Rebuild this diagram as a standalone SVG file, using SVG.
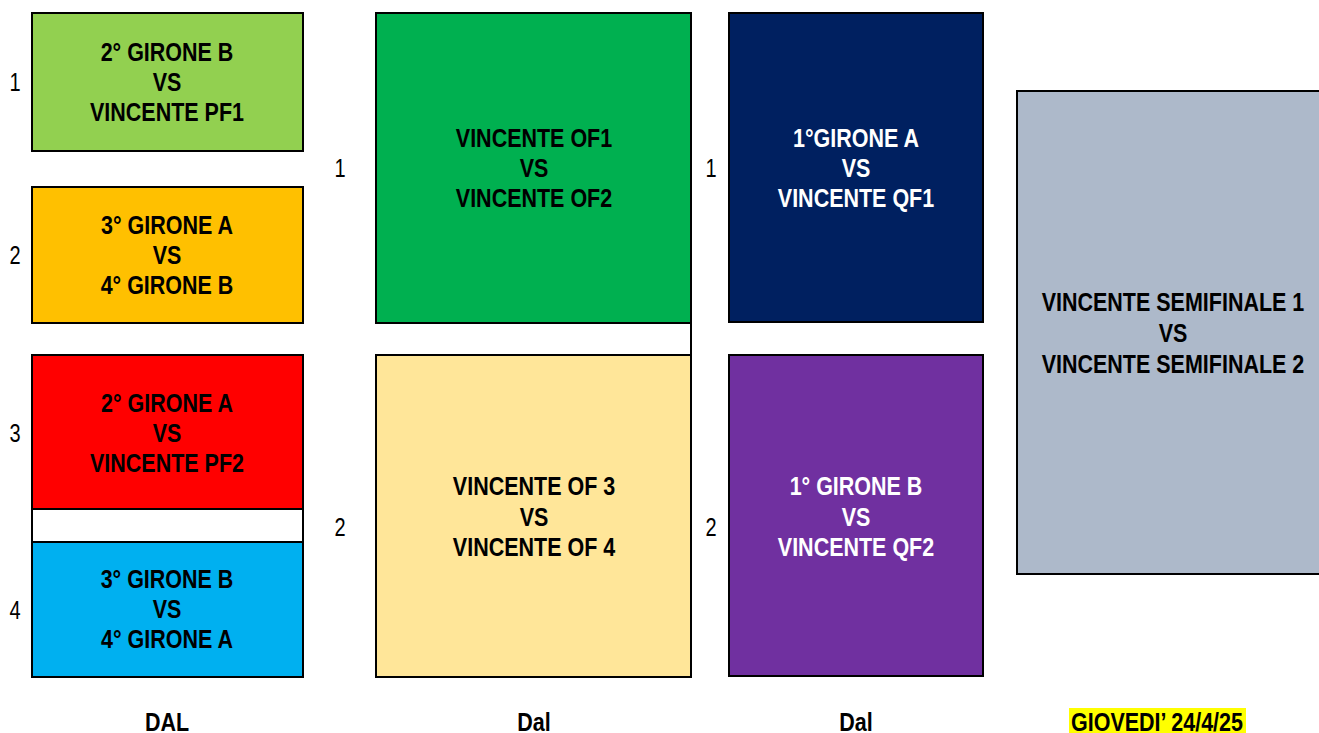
<svg xmlns="http://www.w3.org/2000/svg" width="1319" height="733" viewBox="0 0 1319 733">
<style>
.b{stroke:#000;stroke-width:2}
.t{font-family:"Liberation Sans",Arial,sans-serif;font-weight:bold;font-size:25px;text-anchor:middle}
.n{font-family:"Liberation Sans",Arial,sans-serif;font-size:25px;text-anchor:middle;fill:#000}
.w{fill:#fff}.k{fill:#000}
</style>
<rect width="1319" height="733" fill="#fff"/>
<g id="connectors">
<line x1="691" y1="322" x2="691" y2="356" class="b"/>
</g>
<g id="n1"><rect x="32" y="13" width="271" height="138" fill="#92D050" class="b"/>
<g transform="translate(167,0) scale(0.86,1)" class="t k"><text y="61">2° GIRONE B</text><text y="91">VS</text><text y="121">VINCENTE PF1</text></g></g>
<g id="n2"><rect x="32" y="187" width="271" height="136" fill="#FFC000" class="b"/>
<g transform="translate(167,0) scale(0.86,1)" class="t k"><text y="234">3° GIRONE A</text><text y="264">VS</text><text y="294">4° GIRONE B</text></g></g>
<g id="n3"><rect x="32" y="355" width="271" height="154" fill="#FF0000" class="b"/>
<g transform="translate(167,0) scale(0.86,1)" class="t k"><text y="412">2° GIRONE A</text><text y="442">VS</text><text y="472">VINCENTE PF2</text></g></g>
<g id="gap"><rect x="32" y="509" width="271" height="33" fill="#fff" class="b"/></g>
<g id="n4"><rect x="32" y="542" width="271" height="135" fill="#00B0F0" class="b"/>
<g transform="translate(167,0) scale(0.86,1)" class="t k"><text y="588">3° GIRONE B</text><text y="618">VS</text><text y="648">4° GIRONE A</text></g></g>
<g id="n5"><rect x="376" y="13" width="315" height="310" fill="#00B050" class="b"/>
<g transform="translate(534,0) scale(0.86,1)" class="t k"><text y="147">VINCENTE OF1</text><text y="177">VS</text><text y="207">VINCENTE OF2</text></g></g>
<g id="n6"><rect x="376" y="355" width="315" height="322" fill="#FFE699" class="b"/>
<g transform="translate(534,0) scale(0.86,1)" class="t k"><text y="495">VINCENTE OF 3</text><text y="526">VS</text><text y="556">VINCENTE OF 4</text></g></g>
<g id="n7"><rect x="729" y="13" width="254" height="309" fill="#002060" class="b"/>
<g transform="translate(856,0) scale(0.86,1)" class="t w"><text y="147">1°GIRONE A</text><text y="177">VS</text><text y="207">VINCENTE QF1</text></g></g>
<g id="n8"><rect x="729" y="355" width="254" height="321" fill="#7030A0" class="b"/>
<g transform="translate(856,0) scale(0.86,1)" class="t w"><text y="495">1° GIRONE B</text><text y="526">VS</text><text y="556">VINCENTE QF2</text></g></g>
<g id="n9"><rect x="1017" y="91" width="310" height="483" fill="#ADB9CA" class="b"/>
<g transform="translate(1173,0) scale(0.86,1)" class="t k"><text y="311">VINCENTE SEMIFINALE 1</text><text y="342">VS</text><text y="373">VINCENTE SEMIFINALE 2</text></g></g>
<g id="labels">
<g transform="translate(15,0) scale(0.8,1)" class="n"><text y="91">1</text><text y="264">2</text><text y="442">3</text><text y="619">4</text></g>
<g transform="translate(340,0) scale(0.8,1)" class="n"><text y="177">1</text><text y="536">2</text></g>
<g transform="translate(711,0) scale(0.8,1)" class="n"><text y="177">1</text><text y="536">2</text></g>
<rect x="1069" y="708" width="177" height="25" fill="#FFFF00"/>
<g transform="translate(167,0) scale(0.86,1)" class="t k"><text y="731">DAL</text></g>
<g transform="translate(534,0) scale(0.86,1)" class="t k"><text y="731">Dal</text></g>
<g transform="translate(856,0) scale(0.86,1)" class="t k"><text y="731">Dal</text></g>
<g transform="translate(1157,0) scale(0.86,1)" class="t k"><text y="731">GIOVEDI’ 24/4/25</text></g>
</g>
</svg>
